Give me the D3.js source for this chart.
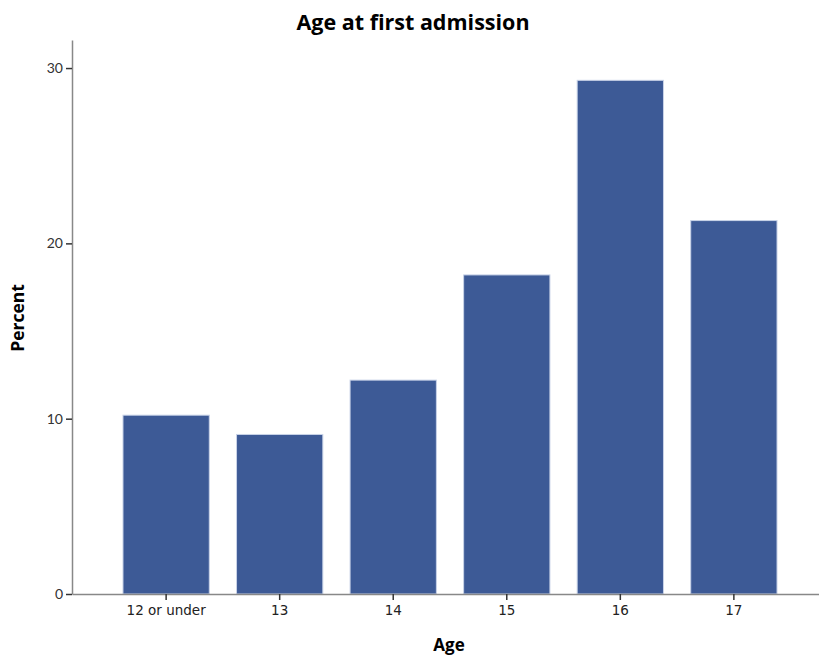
<!DOCTYPE html>
<html><head><meta charset="utf-8">
<script src="https://cdn.jsdelivr.net/npm/d3@7"></script>
<style>body{margin:0;background:#fff}</style>
</head><body>
<svg id="c" width="819" height="657"></svg>
<script>
const categories = ["12 or under","13","14","15","16","17"];
const percents = [10.2, 9.1, 12.2, 18.2, 29.3, 21.3];
const yTicks = [0, 10, 20, 30];
const title = "Age at first admission";
const xTitle = "Age";
const yTitle = "Percent";

const svg = d3.select("#c");
const x = d3.scaleBand().domain(categories).range([72, 828]).paddingInner(0.24).paddingOuter(0.449);
const y = d3.scaleLinear().domain([0, 31.6]).range([594, 40]);
const axisColor = "#888";

svg.append("g").selectAll("rect").data(categories).join("rect")
  .attr("x", d => x(d)).attr("width", x.bandwidth())
  .attr("y", (d,i) => y(percents[i])).attr("height", (d,i) => y(0) - y(percents[i]))
  .attr("fill", "#3d5a96").attr("stroke", "#c9d3e8").attr("stroke-width", 1);

const ya = svg.append("g").attr("transform", "translate(72,0)")
  .call(d3.axisLeft(y).tickValues(yTicks).tickSize(6).tickSizeOuter(0).tickPadding(3).tickFormat(d3.format("d")));
ya.select(".domain").attr("stroke", axisColor).attr("stroke-width", 1.5);
ya.selectAll(".tick line").attr("stroke", "#333").attr("stroke-width", 1.5);
ya.selectAll("text").attr("font-family", "Lato, sans-serif").attr("font-size", 14).attr("fill", "#333");

const xa = svg.append("g").attr("transform", "translate(0,594)")
  .call(d3.axisBottom(x).tickSize(6).tickPadding(5).tickSizeOuter(0));
xa.select(".domain").attr("stroke", axisColor).attr("stroke-width", 1.5);
xa.selectAll(".tick line").attr("stroke", "#333").attr("stroke-width", 1.5);
xa.selectAll("text").attr("font-family", "DejaVu Sans, sans-serif").attr("font-size", 13.5).attr("fill", "#222");

svg.append("text").attr("x", 413).attr("y", 30).attr("text-anchor", "middle")
  .attr("font-family", "Open Sans, sans-serif").attr("font-weight", "bold").attr("font-size", 21.5).attr("fill", "#000").text(title);
svg.append("text").attr("x", 449).attr("y", 651).attr("text-anchor", "middle")
  .attr("font-family", "Open Sans, sans-serif").attr("font-weight", "bold").attr("font-size", 17).attr("fill", "#000").text(xTitle);
svg.append("text").attr("transform", "translate(24,318) rotate(-90)").attr("text-anchor", "middle")
  .attr("font-family", "Open Sans, sans-serif").attr("font-weight", "bold").attr("font-size", 17.5).attr("fill", "#000").text(yTitle);
</script>
</body></html>
